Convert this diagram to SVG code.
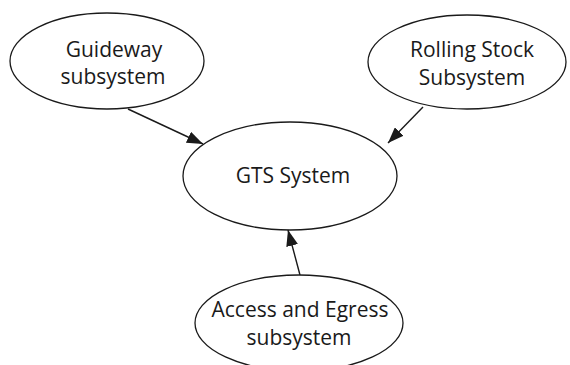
<svg xmlns="http://www.w3.org/2000/svg" width="570" height="365" viewBox="0 0 570 365">
  <style>
    .node ellipse { fill: #ffffff; stroke: #1a1a1a; stroke-width: 1.3; }
    .node text { font-family: "Open Sans", "Liberation Sans", sans-serif; font-size: 21px; fill: #1a1a1a; text-anchor: middle; }
    .edge { stroke: #1a1a1a; stroke-width: 1.4; fill: none; marker-end: url(#arrow); }
  </style>
  <defs>
    <marker id="arrow" viewBox="0 0 16 12" refX="16" refY="6" markerWidth="16" markerHeight="12" markerUnits="userSpaceOnUse" orient="auto">
      <path d="M0,0 L16,6 L0,12 Z" fill="#1a1a1a"/>
    </marker>
  </defs>
  <rect width="570" height="365" fill="#ffffff"/>

  <g id="connectors">
    <line class="edge" x1="128" y1="109" x2="203" y2="144"/>
    <line class="edge" x1="423" y1="107" x2="388" y2="143"/>
    <line class="edge" x1="300" y1="275" x2="288" y2="230"/>
  </g>

  <g id="guideway" class="node">
    <ellipse cx="107" cy="61" rx="97" ry="48"/>
    <text x="114" y="57">Guideway</text>
    <text x="113" y="84">subsystem</text>
  </g>

  <g id="rolling-stock" class="node">
    <ellipse cx="467" cy="62" rx="99" ry="47"/>
    <text x="472" y="57">Rolling Stock</text>
    <text x="472" y="85">Subsystem</text>
  </g>

  <g id="gts-system" class="node">
    <ellipse cx="290" cy="176" rx="107" ry="54"/>
    <text x="293" y="183">GTS System</text>
  </g>

  <g id="access-egress" class="node">
    <ellipse cx="299" cy="323" rx="104" ry="48"/>
    <text x="300" y="317">Access and Egress</text>
    <text x="299" y="345">subsystem</text>
  </g>
</svg>
